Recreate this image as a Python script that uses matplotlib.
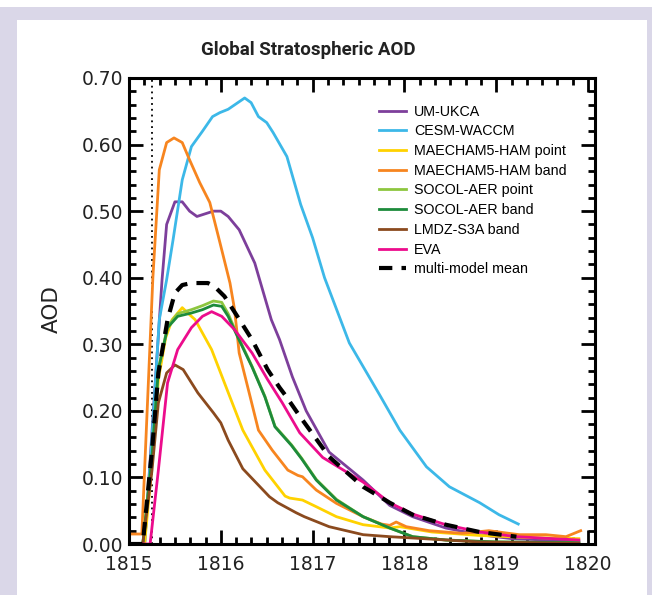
import matplotlib
matplotlib.use("Agg")
import matplotlib.pyplot as plt
from matplotlib.patches import Rectangle
from matplotlib.ticker import MultipleLocator, FormatStrFormatter

# Global stratospheric aerosol optical depth after the 1815 Tambora eruption
eruption_year = 1815.25

um_ukca_t = [1815.0, 1815.17, 1815.36, 1815.41, 1815.5, 1815.58, 1815.66, 1815.74, 1815.92, 1816.0,
             1816.08, 1816.2, 1816.37, 1816.55, 1816.64, 1816.78, 1816.93, 1817.18, 1817.55, 1817.84,
             1818.09, 1818.45, 1818.82, 1819.17, 1819.9]
um_ukca_v = [0.0, 0.0, 0.397, 0.48, 0.514, 0.514, 0.5, 0.492, 0.5, 0.5,
             0.492, 0.472, 0.422, 0.337, 0.307, 0.251, 0.2, 0.138, 0.096, 0.058,
             0.041, 0.024, 0.014, 0.008, 0.004]

cesm_t = [1815.0, 1815.17, 1815.25, 1815.33, 1815.41, 1815.48, 1815.58, 1815.68, 1815.8, 1815.91,
          1815.99, 1816.08, 1816.26, 1816.33, 1816.41, 1816.5, 1816.57, 1816.72, 1816.87, 1817.0,
          1817.13, 1817.4, 1817.73, 1817.95, 1818.24, 1818.49, 1818.82, 1819.03, 1819.24]
cesm_v = [0.0, 0.0, 0.16, 0.337, 0.397, 0.457, 0.547, 0.597, 0.62, 0.642,
          0.648, 0.653, 0.67, 0.663, 0.642, 0.633, 0.618, 0.582, 0.51, 0.46,
          0.40, 0.302, 0.224, 0.171, 0.116, 0.086, 0.062, 0.044, 0.03]

ham_point_t = [1815.0, 1815.17, 1815.25, 1815.32, 1815.4, 1815.47, 1815.58, 1815.64, 1815.72, 1815.9,
               1816.04, 1816.24, 1816.48, 1816.7, 1816.75, 1816.89, 1817.04, 1817.26, 1817.55, 1817.84,
               1817.95, 1818.3, 1818.8, 1819.3, 1819.9]
ham_point_v = [0.0, 0.0, 0.12, 0.247, 0.31, 0.337, 0.355, 0.347, 0.337, 0.292,
               0.242, 0.171, 0.111, 0.072, 0.069, 0.066, 0.056, 0.041, 0.029, 0.024,
               0.026, 0.018, 0.013, 0.01, 0.008]

ham_band_t = [1815.0, 1815.14, 1815.26, 1815.33, 1815.41, 1815.49, 1815.58, 1815.66, 1815.77, 1815.88,
              1815.99, 1816.1, 1816.15, 1816.2, 1816.32, 1816.41, 1816.56, 1816.73, 1816.84, 1816.89,
              1817.04, 1817.26, 1817.55, 1817.75, 1817.84, 1817.91, 1818.02, 1818.27, 1818.63, 1818.92,
              1819.25, 1819.54, 1819.76, 1819.92]
ham_band_v = [0.015, 0.015, 0.40, 0.562, 0.603, 0.61, 0.603, 0.577, 0.543, 0.513,
              0.453, 0.392, 0.352, 0.287, 0.221, 0.171, 0.141, 0.111, 0.103, 0.101,
              0.081, 0.061, 0.041, 0.03, 0.028, 0.033, 0.026, 0.02, 0.016, 0.02,
              0.014, 0.014, 0.011, 0.02]

socol_point_t = [1815.0, 1815.15, 1815.25, 1815.32, 1815.42, 1815.53, 1815.68, 1815.8, 1815.92, 1816.01,
                 1816.08, 1816.18, 1816.34, 1816.48, 1816.59, 1816.77, 1816.88, 1817.04, 1817.26, 1817.55,
                 1817.84, 1818.09, 1818.45, 1819.0, 1819.9]
socol_point_v = [0.0, 0.0, 0.13, 0.262, 0.327, 0.346, 0.352, 0.358, 0.365, 0.363,
                 0.346, 0.314, 0.267, 0.222, 0.177, 0.149, 0.129, 0.097, 0.067, 0.041,
                 0.024, 0.011, 0.006, 0.003, 0.002]

socol_band_t = [1815.0, 1815.15, 1815.25, 1815.32, 1815.42, 1815.53, 1815.68, 1815.8, 1815.92, 1816.01,
                1816.08, 1816.18, 1816.34, 1816.48, 1816.59, 1816.77, 1816.88, 1817.04, 1817.26, 1817.55,
                1817.84, 1818.09, 1818.45, 1819.0, 1819.9]
socol_band_v = [0.0, 0.0, 0.13, 0.262, 0.325, 0.342, 0.347, 0.352, 0.359, 0.357,
                0.342, 0.312, 0.266, 0.221, 0.176, 0.148, 0.128, 0.096, 0.066, 0.041,
                0.024, 0.011, 0.006, 0.003, 0.002]

lmdz_t = [1815.0, 1815.15, 1815.25, 1815.32, 1815.41, 1815.5, 1815.59, 1815.75, 1815.92, 1816.0,
          1816.08, 1816.24, 1816.53, 1816.62, 1816.82, 1816.91, 1817.18, 1817.55, 1817.84, 1818.09,
          1818.82, 1819.9]
lmdz_v = [0.0, 0.0, 0.11, 0.212, 0.257, 0.269, 0.262, 0.227, 0.197, 0.182,
          0.156, 0.113, 0.071, 0.062, 0.047, 0.041, 0.026, 0.014, 0.011, 0.009,
          0.003, 0.001]

eva_t = [1815.0, 1815.23, 1815.32, 1815.42, 1815.53, 1815.68, 1815.8, 1815.9, 1816.01, 1816.15,
         1816.34, 1816.51, 1816.67, 1816.86, 1817.11, 1817.55, 1817.84, 1818.09, 1818.45, 1818.82,
         1819.22, 1819.9]
eva_v = [0.0, 0.0, 0.111, 0.242, 0.292, 0.325, 0.342, 0.349, 0.342, 0.322,
         0.287, 0.247, 0.212, 0.167, 0.13, 0.093, 0.062, 0.045, 0.029, 0.018,
         0.011, 0.006]

mean_t = [1815.0, 1815.15, 1815.25, 1815.32, 1815.42, 1815.5, 1815.58, 1815.68, 1815.86, 1815.93,
          1816.04, 1816.18, 1816.34, 1816.51, 1816.64, 1816.7, 1816.87, 1817.18, 1817.55, 1817.84,
          1818.09, 1818.45, 1818.82, 1819.22]
mean_v = [0.0, 0.0, 0.14, 0.257, 0.337, 0.377, 0.389, 0.392, 0.392, 0.387,
          0.372, 0.342, 0.307, 0.262, 0.235, 0.224, 0.19, 0.131, 0.086, 0.062,
          0.044, 0.029, 0.018, 0.011]

models = [
    ("UM-UKCA", um_ukca_t, um_ukca_v, "#7d3f9b"),
    ("CESM-WACCM", cesm_t, cesm_v, "#3cb8e8"),
    ("MAECHAM5-HAM point", ham_point_t, ham_point_v, "#ffd200"),
    ("MAECHAM5-HAM band", ham_band_t, ham_band_v, "#f7851f"),
    ("SOCOL-AER point", socol_point_t, socol_point_v, "#8dc63f"),
    ("SOCOL-AER band", socol_band_t, socol_band_v, "#1d8b3b"),
    ("LMDZ-S3A band", lmdz_t, lmdz_v, "#8b4a1e"),
    ("EVA", eva_t, eva_v, "#ec0c8c"),
]

fig = plt.figure(figsize=(6.52, 5.95), dpi=100)

# lavender frame around the panel
fig.patches.append(Rectangle((0, 0), 1, 1 - 7 / 595, transform=fig.transFigure,
                             facecolor="#dad7e8", edgecolor="none", zorder=-2))
fig.patches.append(Rectangle((17 / 652, 0), (647 - 17) / 652, 1 - 20 / 595, transform=fig.transFigure,
                             facecolor="white", edgecolor="none", zorder=-1))

ax = fig.add_axes([129 / 652, 51 / 595, 466 / 652, 466 / 595])
ax.set_facecolor("none")

ax.axvline(eruption_year, color="black", linestyle=(0, (1, 2.2)), linewidth=1.3)

for name, t, v, col in models:
    ax.plot(t, v, color=col, linewidth=2.0, label=name)
ax.plot(mean_t, mean_v, color="black", linewidth=3.0, linestyle=(0, (3.2, 2.2)),
        label="multi-model mean")

ax.set_xlim(1815, 1820.076)
ax.set_ylim(0, 0.70)
ax.xaxis.set_major_locator(MultipleLocator(1))
ax.xaxis.set_minor_locator(MultipleLocator(1 / 6))
ax.yaxis.set_major_locator(MultipleLocator(0.1))
ax.yaxis.set_minor_locator(MultipleLocator(0.02))
ax.yaxis.set_major_formatter(FormatStrFormatter("%.2f"))

for s in ax.spines.values():
    s.set_linewidth(2.2)
ax.tick_params(which="both", direction="in", top=True, right=True, width=2.0)
ax.tick_params(which="major", length=10)
ax.tick_params(which="minor", length=5)
ax.tick_params(axis="y", which="major", pad=4, labelsize=13.5)
ax.tick_params(axis="x", which="major", pad=8, labelsize=13.5)
for lab in ax.get_xticklabels() + ax.get_yticklabels():
    lab.set_family("DejaVu Sans")
    lab.set_color("#222222")

ax.set_ylabel("AOD", fontsize=15.5, family="DejaVu Sans", color="#222222")
ax.yaxis.set_label_coords(-0.145, 0.505)
fig.text(308 / 652, 1 - 50 / 595, "Global Stratospheric AOD", ha="center", va="center",
         fontsize=13.5, fontweight="bold", family="Roboto", color="#222222")

leg = ax.legend(loc="upper left", bbox_to_anchor=(0.537, 0.943), frameon=False,
                prop={"family": "Liberation Sans", "size": 10.3}, borderaxespad=0,
                handlelength=1.9, handletextpad=0.55, labelspacing=0.4, borderpad=0)

fig.savefig("out.png", dpi=100)
